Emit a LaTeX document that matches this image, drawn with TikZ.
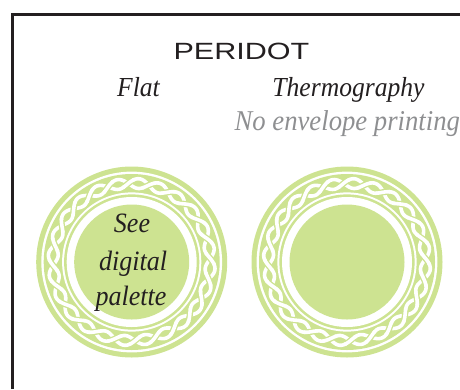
\documentclass[tikz,border=0pt]{standalone}
\usepackage{fontspec}
\setmainfont[FakeStretch=0.93]{Liberation Serif}
\newfontfamily\capsfont[FakeStretch=1.3]{Liberation Sans}
\usetikzlibrary{calc}
\definecolor{peridot}{HTML}{CDE391}
\definecolor{inkblack}{HTML}{231F20}
\definecolor{greyink}{HTML}{8E8F91}
\tikzset{
  frameline/.style={draw=inkblack,line width=2.6pt,line join=miter},
  strand/.style={draw=white,line width=3.6pt},
  casing/.style={draw=peridot,line width=6.2pt},
  serif/.style={font=\fontsize{27.5}{30}\selectfont\itshape,text=inkblack,inner sep=0pt,anchor=base},
  discserif/.style={serif,font=\fontsize{28}{30}\selectfont\itshape},
  greyserif/.style={serif,text=greyink,font=\fontsize{28.7}{30}\selectfont\itshape},
  titletext/.style={font=\capsfont\fontsize{23.5}{26}\selectfont,text=inkblack,inner sep=0pt,anchor=base}
}
\newcommand{\braidmedal}[2]{%
  \begin{scope}[shift={(#1,#2)}]
    \fill[peridot] (0,0) circle[radius=95.5];
    \fill[white] (0,0) circle[radius=90.4];
    \fill[peridot] (0,0) circle[radius=88];
    \fill[white] (0,0) circle[radius=69.6];
    \fill[peridot] (0,0) circle[radius=67.6];
    \fill[white] (0,0) circle[radius=65];
    \fill[peridot] (0,0) circle[radius=57.5];
    \begin{scope}[rotate=2.5]
    \foreach \s in {1,-1}
      \draw[strand] plot[domain=0:360,samples=300,smooth]
        ({(78.7+\s*4.9*sin(12*\x))*cos(\x)},{(78.7+\s*4.9*sin(12*\x))*sin(\x)}) -- cycle;
    \foreach \k in {0,...,23}{
      \pgfmathsetmacro{\tk}{\k*15}
      \pgfmathsetmacro{\s}{ifthenelse(mod(\k,2)==0,1,-1)}
      \pgfmathsetmacro{\ta}{\tk-4.4}
      \pgfmathsetmacro{\tb}{\tk+4.4}
      \pgfmathsetmacro{\ca}{\tk-3.2}
      \pgfmathsetmacro{\cb}{\tk+3.2}
      \draw[casing] plot[domain=\ca:\cb,samples=9,smooth]
        ({(78.7+\s*4.9*sin(12*\x))*cos(\x)},{(78.7+\s*4.9*sin(12*\x))*sin(\x)});
      \draw[strand] plot[domain=\ta:\tb,samples=11,smooth]
        ({(78.7+\s*4.9*sin(12*\x))*cos(\x)},{(78.7+\s*4.9*sin(12*\x))*sin(\x)});
    }
    \end{scope}
  \end{scope}}
\begin{document}
\begin{tikzpicture}[x=1pt,y=-1pt]
  \useasboundingbox (0,0) rectangle (460,389);
  \clip (0,0) rectangle (460,389);
  \coordinate (frameBL) at (12.3,389);
  \coordinate (frameTL) at (12.3,14.3);
  \coordinate (frameTR) at (460,14.3);
  \draw[frameline] (frameBL) -- (frameTL) -- (frameTR);
  \braidmedal{131.7}{262}
  \braidmedal{347}{262}
  \node[titletext] (title) at (241.5,59) {PERIDOT};
  \node[serif] (flat) at (138.5,96) {Flat};
  \node[serif] (thermo) at (348.5,96) {Thermography};
  \node[greyserif] (noenv) at (347.3,130) {No envelope printing};
  \node[discserif] (see) at (132,232) {See};
  \node[discserif] (digital) at (133,270) {digital};
  \node[discserif] (palette) at (131,305) {palette};
\end{tikzpicture}
\end{document}
